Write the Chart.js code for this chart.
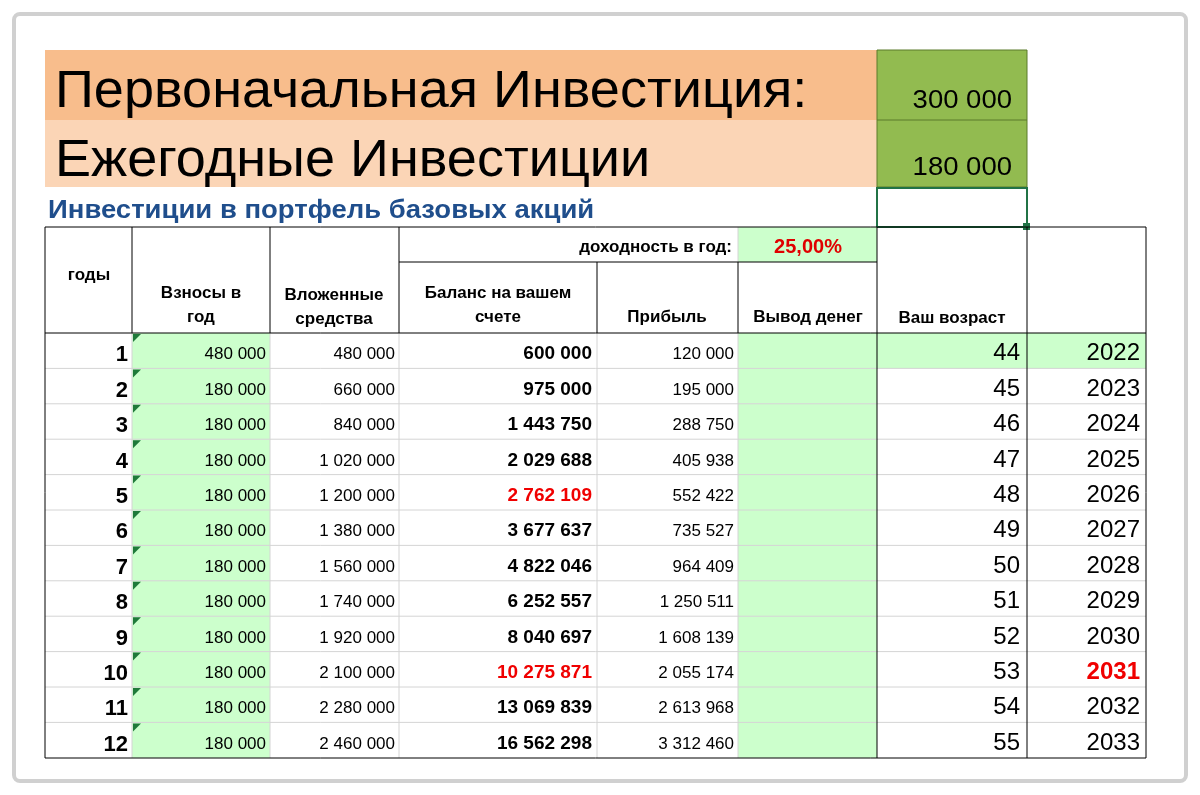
<!DOCTYPE html>
<html><head><meta charset="utf-8">
<script src="https://cdn.jsdelivr.net/npm/chart.js@4"></script>
<style>body{margin:0;background:#fff}canvas{display:block}</style>
</head><body>
<canvas id="c" width="1200" height="795"></canvas>
<script>
// data
const initialInvestment = '300 000';
const yearlyInvestment = '180 000';
const yieldRate = '25,00%';
const years = [1,2,3,4,5,6,7,8,9,10,11,12];
const contributions = ['480 000','180 000','180 000','180 000','180 000','180 000','180 000','180 000','180 000','180 000','180 000','180 000'];
const invested = ['480 000','660 000','840 000','1 020 000','1 200 000','1 380 000','1 560 000','1 740 000','1 920 000','2 100 000','2 280 000','2 460 000'];
const balance = ['600 000','975 000','1 443 750','2 029 688','2 762 109','3 677 637','4 822 046','6 252 557','8 040 697','10 275 871','13 069 839','16 562 298'];
const profit = ['120 000','195 000','288 750','405 938','552 422','735 527','964 409','1 250 511','1 608 139','2 055 174','2 613 968','3 312 460'];
const ages = [44,45,46,47,48,49,50,51,52,53,54,55];
const calYears = [2022,2023,2024,2025,2026,2027,2028,2029,2030,2031,2032,2033];
const highlightRows = [5,10]; // red balance
const highlightYear = 2031;

const cols = [45,132,270,399,597,738,877,1027,1146];
const rowTop = 333, rowH = 35.4;
const FONT = '"Liberation Sans", Arial, sans-serif';

const tablePlugin = {
  id: 'table',
  afterDraw(chart) {
    const ctx = chart.ctx, xs = chart.scales.x, ys = chart.scales.y;
    const X = v => xs.getPixelForValue(v), Y = v => ys.getPixelForValue(v);
    const rect = (x1,y1,x2,y2,fill) => { ctx.fillStyle = fill; ctx.fillRect(X(x1),Y(y1),X(x2)-X(x1),Y(y2)-Y(y1)); };
    const line = (x1,y1,x2,y2,col,w) => { ctx.strokeStyle = col; ctx.lineWidth = w||1; ctx.beginPath(); ctx.moveTo(X(x1),Y(y1)); ctx.lineTo(X(x2),Y(y2)); ctx.stroke(); };
    const text = (s,x,y,size,align,color,bold,sx) => {
      ctx.save();
      ctx.font = (bold?'bold ':'')+size+'px '+FONT; ctx.fillStyle = color||'#000'; ctx.textAlign = align||'left'; ctx.textBaseline = 'alphabetic';
      ctx.translate(X(x),Y(y)); ctx.scale(sx||1,1); ctx.fillText(s,0,0);
      ctx.restore();
    };
    ctx.save();
    // outer frame
    ctx.strokeStyle = '#d0d0d0'; ctx.lineWidth = 4;
    ctx.beginPath(); ctx.roundRect(X(14),Y(14),X(1186)-X(14),Y(781)-Y(14),6); ctx.stroke();
    // title rows
    rect(45,50,877,120,'#f8bd8c');
    rect(45,120,877,187,'#fbd5b6');
    rect(877,50,1027,187,'#92bb50');
    line(877,50,1027,50,'#5a7a2a'); line(877,120,1027,120,'#5a7a2a'); line(877,187,1027,187,'#5a7a2a');
    line(877,50,877,187,'#5a7a2a'); line(1027,50,1027,187,'#5a7a2a');
    text('Первоначальная Инвестиция:',55,107,51,'left','#000',false,1.06);
    text('Ежегодные Инвестиции',55,176,51,'left','#000',false,1.06);
    text(initialInvestment,1012,108,25,'right','#000',false,1.1);
    text(yearlyInvestment,1012,175,25,'right','#000',false,1.1);
    // selected cell
    ctx.strokeStyle = '#217346'; ctx.lineWidth = 2; ctx.strokeRect(X(877),Y(188),X(1027)-X(877),Y(227)-Y(188));
    rect(1023,223,1030,230,'#217346');
    text('Инвестиции в портфель базовых акций',48,218,25,'left','#1f4e8c',true,1.1);
    // fills
    rect(738,227,877,262,'#ccffcc');
    for (let i = 0; i < years.length; i++) {
      const t = rowTop + i*rowH;
      rect(132,t,270,t+rowH,'#ccffcc');
      rect(738,t,877,t+rowH,'#ccffcc');
    }
    rect(877,rowTop,1146,rowTop+rowH,'#ccffcc');
    // row gridlines
    for (let i = 1; i < years.length; i++) line(45,rowTop+i*rowH,1146,rowTop+i*rowH,'#d4d4d4');
    for (let c = 1; c < cols.length-1; c++) line(cols[c],rowTop,cols[c],758,c===6||c===7?'#000':'#d4d4d4');
    // header lines
    [132,270,399,877,1027].forEach(x => line(x,227,x,333,'#000'));
    [597,738].forEach(x => line(x,262,x,333,'#000'));
    line(738,227,738,262,'#d4d4d4');
    line(399,262,877,262,'#000');
    line(45,227,1146,227,'#000'); line(45,333,1146,333,'#000');
    line(45,758,1146,758,'#000'); line(45,227,45,758,'#000'); line(1146,227,1146,758,'#000');
    // header text
    text('доходность в год:',732,252,17,'right','#000',true);
    text(yieldRate,808,253,20,'center','#e00000',true);
    text('годы',89,280,17,'center','#000',true);
    text('Взносы в',201,298,17,'center','#000',true); text('год',201,322,17,'center','#000',true);
    text('Вложенные',334,300,17,'center','#000',true); text('средства',334,324,17,'center','#000',true);
    text('Баланс на вашем',498,298,17,'center','#000',true); text('счете',498,322,17,'center','#000',true);
    text('Прибыль',667,322,17,'center','#000',true);
    text('Вывод денег',808,322,17,'center','#000',true);
    text('Ваш возраст',952,323,17,'center','#000',true);
    // data rows
    for (let i = 0; i < years.length; i++) {
      const t = rowTop + i*rowH, b = t + rowH - 9;
      text(String(years[i]),128,b+2,22,'right','#000',true);
      ctx.fillStyle = '#1f7a3a'; ctx.beginPath(); ctx.moveTo(X(133),Y(t+1)); ctx.lineTo(X(141),Y(t+1)); ctx.lineTo(X(133),Y(t+9)); ctx.fill();
      text(contributions[i],266,b,17,'right','#000');
      text(invested[i],395,b,17,'right','#000');
      const red = highlightRows.includes(years[i]);
      text(balance[i],592,b,19,'right',red?'#f00000':'#000',true);
      text(profit[i],734,b,17,'right','#000');
      text(String(ages[i]),1020,b+1,24,'right','#000');
      const ry = calYears[i] === highlightYear;
      text(String(calYears[i]),1140,b+1,24,'right',ry?'#f00000':'#000',ry);
    }
    ctx.restore();
  }
};

new Chart(document.getElementById('c'), {
  type: 'scatter',
  data: { datasets: [{ data: [] }] },
  options: {
    responsive: false, animation: false, devicePixelRatio: 1,
    layout: { padding: 0 },
    plugins: { legend: { display: false }, tooltip: { enabled: false } },
    scales: {
      x: { type: 'linear', min: 0, max: 1200, display: false },
      y: { type: 'linear', min: 0, max: 795, reverse: true, display: false }
    }
  },
  plugins: [tablePlugin]
});
</script>
</body></html>
